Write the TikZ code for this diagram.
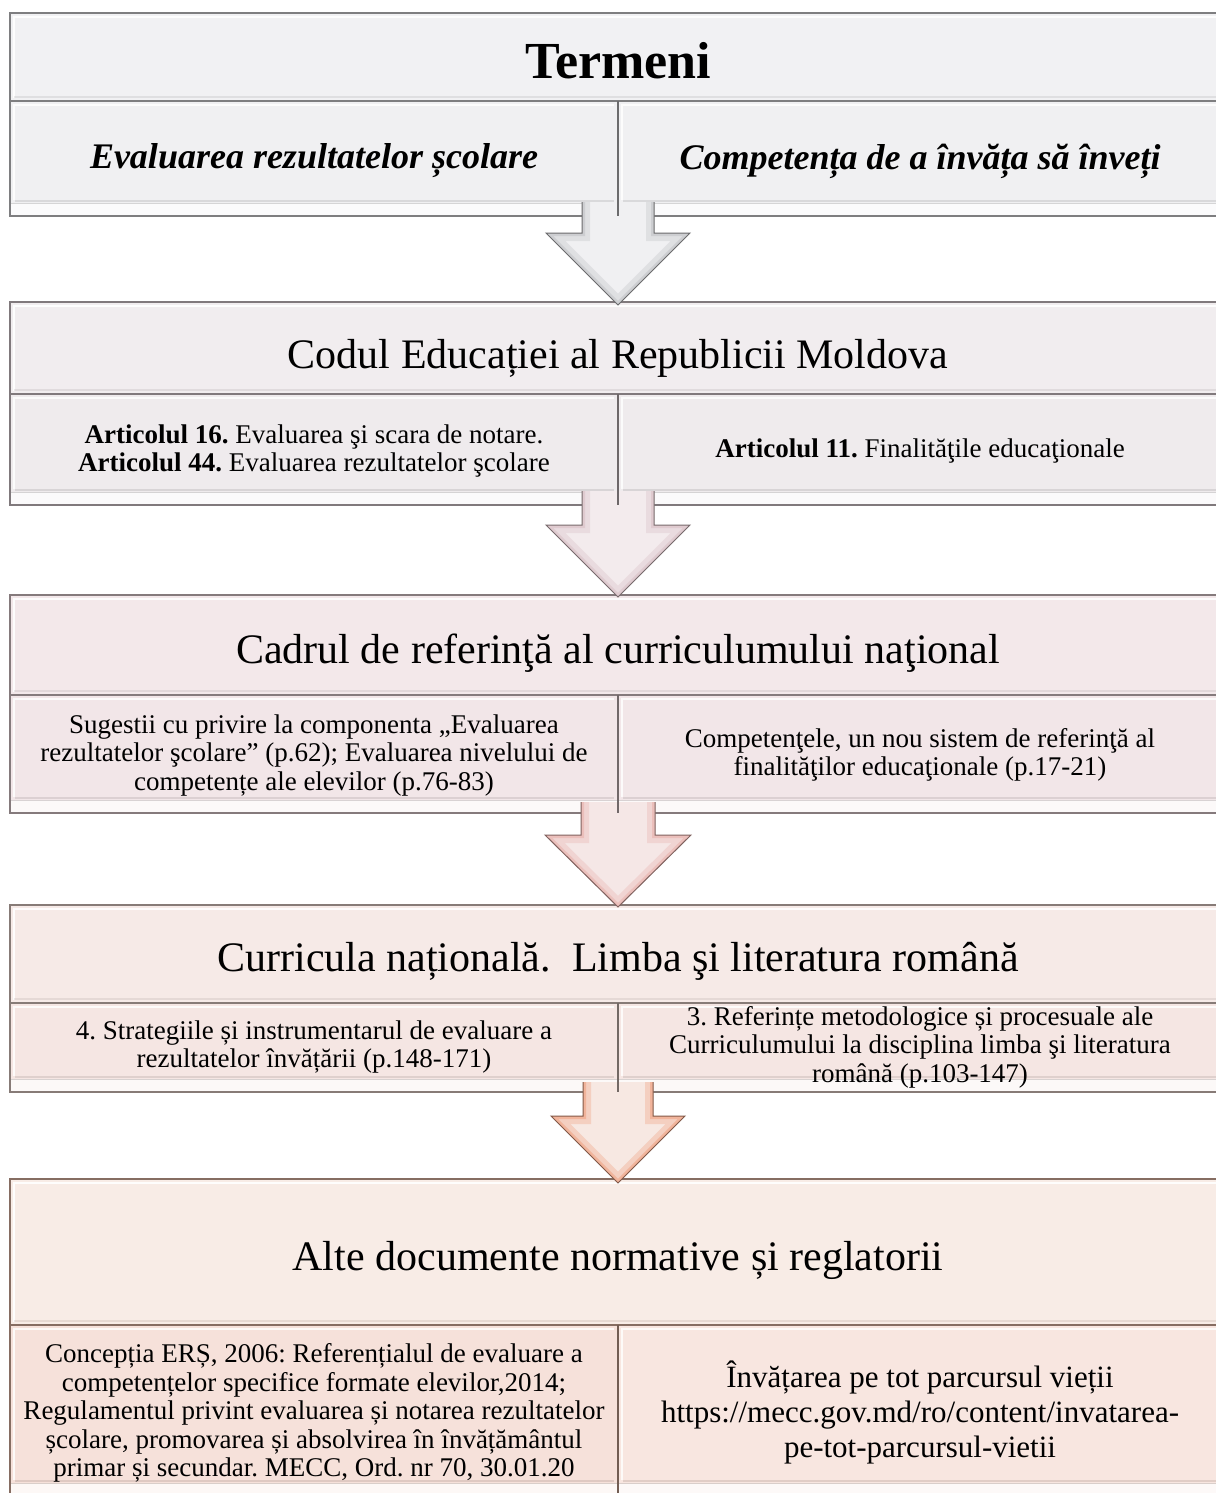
\documentclass[tikz,border=0pt]{standalone}
\usepackage{fontspec}
\setmainfont{Liberation Serif}
\frenchspacing
\definecolor{fA}{HTML}{F1F1F3}\definecolor{bA}{HTML}{7E7E80}\definecolor{sA}{HTML}{F0F0F2}
\definecolor{fB}{HTML}{F1EDEF}\definecolor{bB}{HTML}{80797C}\definecolor{sB}{HTML}{EFEBED}
\definecolor{fC}{HTML}{F3E8EA}\definecolor{bC}{HTML}{857A7C}\definecolor{sC}{HTML}{F2E6E8}
\definecolor{fD}{HTML}{F6EAE7}\definecolor{bD}{HTML}{877B77}\definecolor{sD}{HTML}{F5E6E3}
\definecolor{fE}{HTML}{F8ECE6}\definecolor{bE}{HTML}{866D62}\definecolor{sEl}{HTML}{F6E1DA}\definecolor{sEr}{HTML}{F8E6E0}
\definecolor{aA}{HTML}{F0F0F2}\definecolor{eA}{HTML}{C2C3C7}
\definecolor{aB}{HTML}{F3EBED}\definecolor{eB}{HTML}{D9C0C5}
\definecolor{aC}{HTML}{F5E7E6}\definecolor{eC}{HTML}{E8B2AD}
\definecolor{aD}{HTML}{F7E8E2}\definecolor{eD}{HTML}{EFA283}
% sub box: x1 y1 x2 y2 fill edge
\newcommand\SubBox[6]{%
  \fill[#5] (#1,#2) rectangle (#3,#4);
  \draw[white, opacity=.8, line width=2pt] (#1+4,#4-16) -- (#1+4,#2+4) -- (#3-4,#2+4);
  \draw[#6, opacity=.2, line width=2pt] (#1+5,#4-15) -- (#3-4,#4-15);
  \fill[white, opacity=.78] (#1,#4-13) rectangle (#3,#4);
  \draw[#6, opacity=.3, line width=.8pt] (#1,#4-13) -- (#3,#4-13);
}
% section: top divider bottom fill border leftfill rightfill
\newcommand\Section[7]{%
  \fill[#4] (10,#1) rectangle (1222,#3);
  \draw[white, opacity=.9, line width=2pt] (14,#2-3) -- (14,#1+4) -- (1218,#1+4);
  \draw[#5, opacity=.15, line width=2pt] (14,#2-4) -- (1218,#2-4);
  \SubBox{10}{#2}{618}{#3}{#6}{#5}
  \SubBox{618}{#2}{1222}{#3}{#7}{#5}
  \draw[#5, line width=1.5pt] (10,#1) rectangle (1222,#3);
  \draw[#5, line width=1.3pt] (10,#2) -- (1222,#2);
}
\newcommand\Divider[3]{\draw[#3!85!black, line width=2.2pt] (618,#1) -- (618,#2);}
% arrow: cx top head tip halfshaft halfhead fill edge
\newcommand\DownArrow[8]{%
  \fill[#7] (#1-#5,#2) -- (#1+#5,#2) -- (#1+#5,#3) -- (#1+#6,#3) -- (#1,#4) -- (#1-#6,#3) -- (#1-#5,#3) -- cycle;
  \begin{scope}
    \clip (#1-#5,#2) -- (#1+#5,#2) -- (#1+#5,#3) -- (#1+#6,#3) -- (#1,#4) -- (#1-#6,#3) -- (#1-#5,#3) -- cycle;
    \draw[#8, line width=16pt, opacity=.35, line join=miter] (#1-#5,#2) -- (#1-#5,#3) -- (#1-#6,#3) -- (#1,#4) -- (#1+#6,#3) -- (#1+#5,#3) -- (#1+#5,#2);
    \draw[#8, line width=6pt, opacity=.6, line join=miter] (#1-#5,#2) -- (#1-#5,#3) -- (#1-#6,#3) -- (#1,#4) -- (#1+#6,#3) -- (#1+#5,#3) -- (#1+#5,#2);
  \end{scope}
  \draw[#8!55!black, line width=1pt, line join=miter] (#1+#5,#2) -- (#1+#5,#3) -- (#1+#6,#3) -- (#1,#4) -- (#1-#6,#3) -- (#1-#5,#3) -- (#1-#5,#2);
}
\tikzset{
  hdr/.style={inner sep=0pt, anchor=base, text=black, font=\fontsize{42}{48}\selectfont},
  subtxt/.style={inner sep=0pt, align=center, text=black, font=\fontsize{27}{28.5}\selectfont},
  bigtxt/.style={inner sep=0pt, align=center, text=black, font=\fontsize{31}{35}\selectfont},
  termtxt/.style={inner sep=0pt, text=black, font=\bfseries\itshape\fontsize{36}{40}\selectfont}
}
\begin{document}
\begin{tikzpicture}[x=1pt,y=-1pt]
\useasboundingbox (0,0) rectangle (1215,1493);
\fill[white] (0,0) rectangle (1215,1493);
\Section{13}{101}{216}{fA}{bA}{sA}{sA}
\Section{302}{394}{505}{fB}{bB}{sB}{sB}
\Section{595}{695}{813}{fC}{bC}{sC}{sC}
\Section{905}{1003}{1092}{fD}{bD}{sD}{sD}
\Section{1179}{1325}{1496}{fE}{bE}{sEl}{sEr}
\DownArrow{618}{202}{233}{305}{36}{72}{aA}{eA}
\DownArrow{618}{491}{525}{597}{36}{72}{aB}{eB}
\DownArrow{618}{802}{835}{907}{37}{73}{aC}{eC}
\DownArrow{618}{1082}{1116}{1183}{35}{67}{aD}{eD}
\Divider{101}{216}{bA}
\Divider{394}{505}{bB}
\Divider{695}{813}{bC}
\Divider{1003}{1092}{bD}
\Divider{1325}{1496}{bE}
% texts
\node[hdr, font=\bfseries\fontsize{52}{60}\selectfont] (termeni) at (618,79) {Termeni};
\node[termtxt] (t1l) at (314,161) {Evaluarea rezultatelor școlare};
\node[termtxt] (t1r) at (920,161) {Competența de a învăța să înveți};
\node[hdr] (codul) at (618,368) {Codul Educației al Republicii Moldova};
\node[subtxt] (t2l) at (314,451) {\textbf{Articolul 16.} Evaluarea şi scara de notare.\\\textbf{Articolul 44.} Evaluarea rezultatelor şcolare};
\node[subtxt] (t2r) at (920,451) {\textbf{Articolul 11.} Finalităţile educaţionale};
\node[hdr] (cadrul) at (618,663) {Cadrul de referinţă al curriculumului naţional};
\node[subtxt] (t3l) at (314,755) {Sugestii cu privire la componenta „Evaluarea\\rezultatelor şcolare” (p.62); Evaluarea nivelului de\\competențe ale elevilor (p.76-83)};
\node[subtxt] (t3r) at (920,755) {Competenţele, un nou sistem de referinţă al\\finalităţilor educaţionale (p.17-21)};
\node[hdr] (curricula) at (618,971) {Curricula națională.\ \ Limba şi literatura română};
\node[subtxt] (t4l) at (314,1047) {4. Strategiile și instrumentarul de evaluare a\\rezultatelor învățării (p.148-171)};
\node[subtxt] (t4r) at (920,1047) {3. Referințe metodologice și procesuale ale\\Curriculumului la disciplina limba şi literatura\\română (p.103-147)};
\node[hdr] (alte) at (618,1270) {Alte documente normative și reglatorii};
\node[subtxt] (t5l) at (314,1413) {Concepția ERȘ, 2006: Referențialul de evaluare a\\competențelor specifice formate elevilor,2014;\\Regulamentul privint evaluarea și notarea rezultatelor\\școlare, promovarea și absolvirea în învățământul\\primar și secundar. MECC, Ord. nr 70, 30.01.20};
\node[bigtxt] (t5r) at (920,1412) {Învățarea pe tot parcursul vieții\\https://mecc.gov.md/ro/content/invatarea-\\pe-tot-parcursul-vietii};
\end{tikzpicture}
\end{document}
